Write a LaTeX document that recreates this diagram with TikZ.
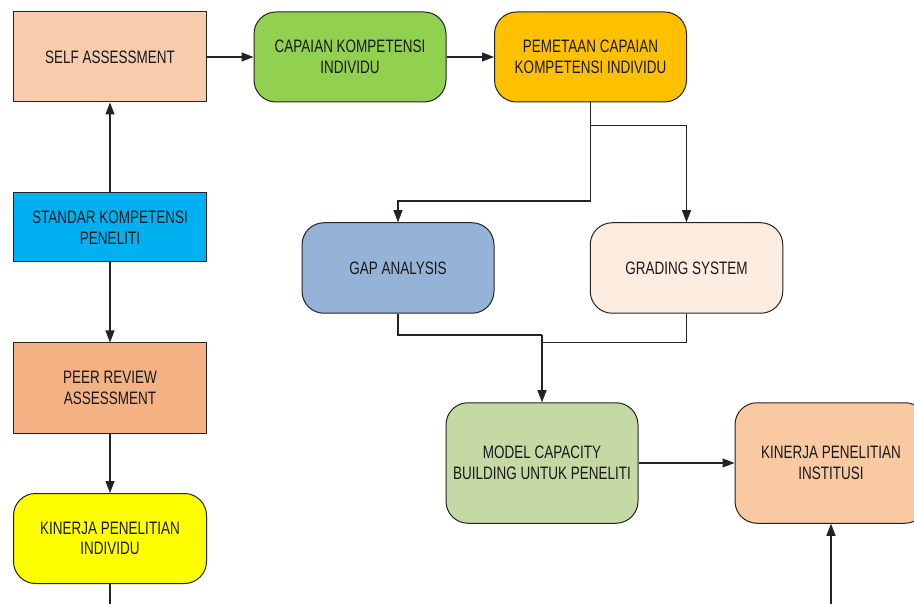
\documentclass[tikz,border=0pt]{standalone}
\usepackage{fontspec}
\setmainfont{Liberation Sans}[FakeStretch=0.75]
\usetikzlibrary{arrows.meta,positioning}
\definecolor{cself}{RGB}{248,203,173}
\definecolor{ccap}{RGB}{146,208,80}
\definecolor{cpem}{RGB}{255,192,0}
\definecolor{cstd}{RGB}{0,176,240}
\definecolor{cpeer}{RGB}{244,177,131}
\definecolor{ckin}{RGB}{255,255,0}
\definecolor{cgap}{RGB}{149,179,215}
\definecolor{cgrad}{RGB}{253,236,224}
\definecolor{cmodel}{RGB}{197,217,164}
\definecolor{cinst}{RGB}{249,201,161}
\definecolor{cline}{RGB}{35,35,35}
\definecolor{ctext}{RGB}{25,25,25}
\tikzset{
  box/.style={draw=cline, line width=1pt, text=ctext, align=center,
    font=\fontsize{18}{20.5}\selectfont, inner sep=0pt},
  sq/.style={box},
  rnd/.style={box, rounded corners=22pt},
  conn/.style={draw=cline, line width=1.1pt},
  arr/.style={conn, -{Triangle[length=12pt,width=9pt]}}
}
\begin{document}
\begin{tikzpicture}[x=1pt,y=-1pt]
\useasboundingbox (0,0) rectangle (914,604);
\node[sq, fill=cself, minimum width=193pt, minimum height=90pt] (self) at (110,57) {SELF ASSESSMENT};
\node[rnd, fill=ccap, minimum width=192pt, minimum height=90pt] (cap) at (350,57) {CAPAIAN KOMPETENSI\\INDIVIDU};
\node[rnd, fill=cpem, minimum width=192pt, minimum height=90pt] (pem) at (590.5,57) {PEMETAAN CAPAIAN\\KOMPETENSI INDIVIDU};
\node[sq, fill=cstd, minimum width=193pt, minimum height=69pt] (std) at (110,227.5) {STANDAR KOMPETENSI\\PENELITI};
\node[sq, fill=cpeer, minimum width=193pt, minimum height=90pt] (peer) at (110,388) {PEER REVIEW\\ASSESSMENT};
\node[rnd, fill=ckin, minimum width=193pt, minimum height=90pt] (kin) at (110,538.5) {KINERJA PENELITIAN\\INDIVIDU};
\node[rnd, fill=cgap, minimum width=192pt, minimum height=90.5pt] (gap) at (398,268) {GAP ANALYSIS};
\node[rnd, fill=cgrad, minimum width=192.5pt, minimum height=90.5pt] (grad) at (686.5,268) {GRADING SYSTEM};
\node[rnd, fill=cmodel, minimum width=192pt, minimum height=120.5pt] (model) at (542,463) {MODEL CAPACITY\\BUILDING UNTUK PENELITI};
\node[rnd, fill=cinst, minimum width=192pt, minimum height=120.5pt] (inst) at (831,463) {KINERJA PENELITIAN\\INSTITUSI};
\coordinate (kinend) at (110,604);
\coordinate (instend) at (831,604);
\coordinate (split1) at (590.5,201);
\coordinate (split2) at (590.5,125.7);
\coordinate (join1) at (542,335);
\coordinate (join2) at (542,342.7);
\draw[arr] (self.east) -- (cap.west);
\draw[arr] (cap.east) -- (pem.west);
\draw[arr] (std.north) -- (self.south);
\draw[arr] (std.south) -- (peer.north);
\draw[arr] (peer.south) -- (kin.north);
\draw[conn] (kin.south) -- (kinend);
\draw[arr] (pem.south) -- (split1) -| (gap.north);
\draw[arr] (split2) -| (grad.north);
\draw[conn] (gap.south) |- (join1);
\draw[conn] (grad.south) |- (join2);
\draw[arr] (join1) -- (model.north);
\draw[arr] (model.east) -- (inst.west);
\draw[arr] (instend) -- (inst.south);
\end{tikzpicture}
\end{document}
